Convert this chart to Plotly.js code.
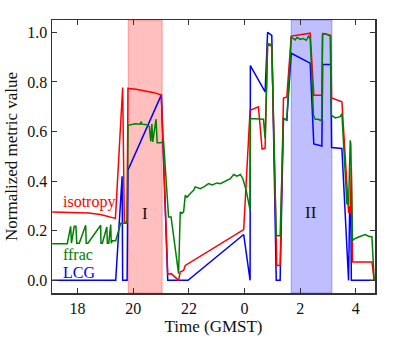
<!DOCTYPE html>
<html>
<head>
<meta charset="utf-8">
<script src="https://cdn.plot.ly/plotly-3.0.1.min.js"></script>
<style>
  html, body { margin: 0; padding: 0; background: #fff; }
  #plot { width: 416px; height: 343px; }
</style>
</head>
<body>
<div id="plot"></div>
<script>
// time in hours, 24 == 0 GMST of the next day
const isoTime = [17.09, 17.99, 18.4, 18.82, 19.36, 19.62, 19.68, 19.78, 19.81, 20.1, 20.43, 20.75, 21.01,
  21.24, 21.37, 21.63, 21.69, 21.81, 21.87, 23.97, 24.20, 24.50, 24.63, 24.74, 24.83, 24.98, 25.16, 25.28,
  25.40, 25.52, 25.68, 26.00, 26.36, 26.49, 26.78, 26.81, 27.10, 27.13, 27.50, 27.74, 27.80, 27.84, 27.88,
  28.58, 28.66];
const isoValue = [0.276, 0.275, 0.272, 0.266, 0.250, 0.778, 0.235, 0.235, 0.774, 0.771, 0.765, 0.757, 0.747,
  0.025, 0.027, 0.0, 0.034, 0.040, 0.060, 0.205, 0.686, 0.700, 0.530, 0.533, 0.950, 0.945, 0.060, 0.060,
  0.735, 0.740, 0.985, 0.990, 0.997, 0.747, 0.747, 0.996, 0.988, 0.736, 0.720, 0.275, 0.275, 0.453, 0.074,
  0.074, 0.0];

const lcgTime = [17.09, 19.37, 19.60, 19.62, 19.78, 19.81, 21.01, 21.24, 21.97, 23.97, 24.20, 24.21, 24.74,
  24.83, 24.98, 25.14, 25.28, 25.40, 25.52, 25.68, 26.36, 26.49, 26.78, 26.81, 27.10, 27.13, 27.50, 27.74,
  27.78, 27.82, 27.84, 28.69];
const lcgValue = [0, 0, 0.42, 0, 0, 0.444, 0.748, 0, 0, 0.185, 0, 0.866, 0.760,
  1.0, 0.988, 0, 0, 0.653, 0.646, 0.916, 0.876, 0.550, 0.542, 0.871, 0.871, 0.536, 0.532, 0,
  0.296, 0.296, 0, 0];

const ffracTime = [17.09, 17.50, 17.63, 17.75, 17.78, 17.88, 17.94, 17.97, 18.06, 18.29, 18.31, 18.37, 18.83,
  18.84, 18.89, 19.05, 19.07, 19.12, 19.19, 19.21, 19.25, 19.37, 19.55, 19.62, 19.78, 19.81, 19.89, 20.07,
  20.25, 20.29, 20.31, 20.50, 20.58, 20.63, 20.67, 20.70, 20.82, 20.86, 20.99, 21.09, 21.27, 21.36, 21.63,
  21.69, 21.75, 21.81, 21.87, 21.93, 22.05, 22.17, 22.23, 22.41, 22.55, 22.71, 22.84, 23.01, 23.13, 23.37,
  23.49, 23.61, 23.73, 23.85, 23.94, 24.06, 24.20, 24.21, 24.50, 24.68, 24.74, 24.83, 24.98, 25.14, 25.28,
  25.40, 25.52, 25.68, 25.76, 25.82, 25.89, 26.00, 26.11, 26.22, 26.30, 26.36, 26.48, 26.54, 26.66, 26.72,
  26.78, 26.80, 26.90, 27.08, 27.12, 27.26, 27.44, 27.50, 27.68, 27.74, 27.80, 27.82, 27.88, 27.92, 28.10,
  28.22, 28.34, 28.46, 28.58, 28.66];
const ffracValue = [0.148, 0.148, 0.148, 0.218, 0.150, 0.218, 0.218, 0.150, 0.150, 0.222, 0.150, 0.150, 0.222,
  0.150, 0.150, 0.215, 0.150, 0.150, 0.225, 0.150, 0.160, 0.160, 0.230, 0.230, 0.230, 0.625, 0.628, 0.632,
  0.630, 0.640, 0.630, 0.628, 0.620, 0.560, 0.630, 0.558, 0.650, 0.555, 0.555, 0.560, 0.256, 0.256, 0.027,
  0.276, 0.270, 0.276, 0.343, 0.335, 0.350, 0.363, 0.377, 0.370, 0.378, 0.390, 0.385, 0.393, 0.390, 0.404,
  0.410, 0.427, 0.420, 0.427, 0.410, 0.363, 0.283, 0.653, 0.650, 0.650, 0.572, 0.955, 0.950, 0.180, 0.180,
  0.653, 0.646, 0.980, 0.975, 0.970, 0.980, 0.972, 0.975, 0.968, 0.985, 0.975, 0.666, 0.650, 0.650, 0.645,
  0.652, 0.990, 0.995, 0.985, 0.666, 0.655, 0.660, 0.672, 0.310, 0.305, 0.565, 0.550, 0.160, 0.165, 0.175,
  0.180, 0.185, 0.178, 0.175, 0.0];

const xTicks = [18, 20, 22, 24, 26, 28];
const xTickText = ['18', '20', '22', '0', '2', '4'];
const yTicks = [0, 0.2, 0.4, 0.6, 0.8, 1.0];
const yTickText = ['0.0', '0.2', '0.4', '0.6', '0.8', '1.0'];

const bandI = [19.82, 21.04];
const bandII = [25.68, 27.14];

const serif = 'Liberation Serif';

const traces = [
  { x: lcgTime, y: lcgValue, name: 'LCG', mode: 'lines', line: { color: '#0000ff', width: 1.5 } },
  { x: isoTime, y: isoValue, name: 'isotropy', mode: 'lines', line: { color: '#ff0000', width: 1.5 } },
  { x: ffracTime, y: ffracValue, name: 'ffrac', mode: 'lines', line: { color: '#008000', width: 1.5 } }
];

const axisCommon = {
  showgrid: false, zeroline: false,
  showline: true, linecolor: '#333', linewidth: 1.5, mirror: 'allticks',
  ticks: 'inside', ticklen: 5, tickwidth: 1, tickcolor: '#333',
  tickfont: { family: serif, size: 16, color: '#111' }
};

const layout = {
  width: 416, height: 343,
  margin: { l: 52, r: 41, t: 20, b: 50 },
  showlegend: false,
  plot_bgcolor: '#fff', paper_bgcolor: '#fff',
  xaxis: Object.assign({}, axisCommon, {
    range: [17.08, 28.69], tickvals: xTicks, ticktext: xTickText,
    title: { text: 'Time (GMST)', font: { family: serif, size: 17, color: '#111' }, standoff: 4 }
  }),
  yaxis: Object.assign({}, axisCommon, {
    range: [-0.051, 1.05], tickvals: yTicks, ticktext: yTickText,
    title: { text: 'Normalized metric value', font: { family: serif, size: 17, color: '#111' }, standoff: 5 }
  }),
  shapes: [
    { type: 'rect', layer: 'below', xref: 'x', yref: 'paper', x0: bandI[0], x1: bandI[1], y0: 0, y1: 1,
      fillcolor: 'rgba(255,0,0,0.25)', line: { color: 'rgba(255,0,0,0.3)', width: 1 } },
    { type: 'rect', layer: 'below', xref: 'x', yref: 'paper', x0: bandII[0], x1: bandII[1], y0: 0, y1: 1,
      fillcolor: 'rgba(0,0,255,0.25)', line: { color: 'rgba(0,0,255,0.3)', width: 1 } }
  ],
  annotations: [
    { x: 18.42, y: 0.316, text: 'isotropy', showarrow: false, font: { family: serif, size: 16, color: '#ff0000' } },
    { x: 18.01, y: 0.105, text: 'ffrac', showarrow: false, font: { family: serif, size: 16, color: '#008000' } },
    { x: 18.04, y: 0.03, text: 'LCG', showarrow: false, font: { family: serif, size: 16, color: '#0000ff' } },
    { x: 20.43, y: 0.27, text: 'I', showarrow: false, font: { family: serif, size: 17, color: '#111' } },
    { x: 26.38, y: 0.275, text: 'II', showarrow: false, font: { family: serif, size: 17, color: '#111' } }
  ]
};

Plotly.newPlot('plot', traces, layout, { staticPlot: true, displayModeBar: false });
</script>
</body>
</html>
